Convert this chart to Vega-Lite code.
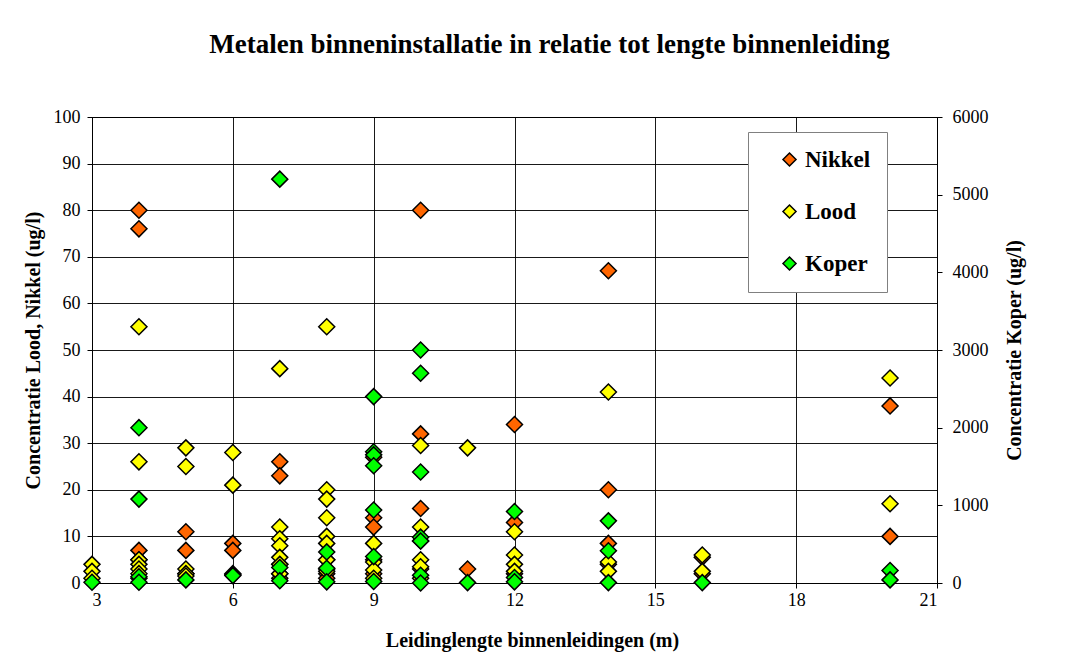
{
  "$schema": "https://vega.github.io/schema/vega-lite/v6.json",
  "width": 845,
  "height": 466,
  "autosize": {"type": "none"},
  "padding": {"left": 92, "top": 117, "right": 144, "bottom": 81},
  "background": "white",
  "title": {
    "text": "Metalen binneninstallatie in relatie tot lengte binnenleiding",
    "font": "Liberation Serif",
    "fontSize": 27,
    "fontWeight": "bold",
    "color": "black",
    "anchor": "middle",
    "dx": 35,
    "offset": 49
  },
  "config": {
    "view": {"stroke": "black", "strokeWidth": 1},
    "font": "Liberation Serif",
    "axis": {
      "labelFont": "Liberation Serif",
      "labelFontSize": 18,
      "labelColor": "black",
      "titleFont": "Liberation Serif",
      "titleFontSize": 20,
      "titleFontWeight": "bold",
      "titleColor": "black",
      "domainColor": "black",
      "tickColor": "black",
      "tickSize": 5,
      "gridColor": "#000000",
      "gridOpacity": 0.9,
      "labelPadding": 6
    }
  },
  "data": {
    "values": [
      {"x": 4, "s": "Nikkel", "v": 80}, {"x": 4, "s": "Nikkel", "v": 76}, {"x": 4, "s": "Nikkel", "v": 7}, {"x": 4, "s": "Nikkel", "v": 5},
      {"x": 5, "s": "Nikkel", "v": 11}, {"x": 5, "s": "Nikkel", "v": 7}, {"x": 5, "s": "Nikkel", "v": 2},
      {"x": 6, "s": "Nikkel", "v": 8.5}, {"x": 6, "s": "Nikkel", "v": 7},
      {"x": 7, "s": "Nikkel", "v": 26}, {"x": 7, "s": "Nikkel", "v": 23}, {"x": 7, "s": "Nikkel", "v": 4}, {"x": 7, "s": "Nikkel", "v": 2}, {"x": 7, "s": "Nikkel", "v": 1},
      {"x": 8, "s": "Nikkel", "v": 5}, {"x": 8, "s": "Nikkel", "v": 3}, {"x": 8, "s": "Nikkel", "v": 2}, {"x": 8, "s": "Nikkel", "v": 1},
      {"x": 9, "s": "Nikkel", "v": 27}, {"x": 9, "s": "Nikkel", "v": 14}, {"x": 9, "s": "Nikkel", "v": 12}, {"x": 9, "s": "Nikkel", "v": 5}, {"x": 9, "s": "Nikkel", "v": 2},
      {"x": 10, "s": "Nikkel", "v": 80}, {"x": 10, "s": "Nikkel", "v": 32}, {"x": 10, "s": "Nikkel", "v": 16}, {"x": 10, "s": "Nikkel", "v": 9}, {"x": 10, "s": "Nikkel", "v": 3},
      {"x": 11, "s": "Nikkel", "v": 3},
      {"x": 12, "s": "Nikkel", "v": 34}, {"x": 12, "s": "Nikkel", "v": 13}, {"x": 12, "s": "Nikkel", "v": 2},
      {"x": 14, "s": "Nikkel", "v": 67}, {"x": 14, "s": "Nikkel", "v": 20}, {"x": 14, "s": "Nikkel", "v": 8.5}, {"x": 14, "s": "Nikkel", "v": 4},
      {"x": 16, "s": "Nikkel", "v": 5.5}, {"x": 16, "s": "Nikkel", "v": 2},
      {"x": 20, "s": "Nikkel", "v": 38}, {"x": 20, "s": "Nikkel", "v": 10},
      {"x": 3, "s": "Lood", "v": 4}, {"x": 3, "s": "Lood", "v": 2.5}, {"x": 3, "s": "Lood", "v": 1},
      {"x": 4, "s": "Lood", "v": 55}, {"x": 4, "s": "Lood", "v": 26}, {"x": 4, "s": "Lood", "v": 5}, {"x": 4, "s": "Lood", "v": 4}, {"x": 4, "s": "Lood", "v": 3}, {"x": 4, "s": "Lood", "v": 2}, {"x": 4, "s": "Lood", "v": 1},
      {"x": 5, "s": "Lood", "v": 29}, {"x": 5, "s": "Lood", "v": 25}, {"x": 5, "s": "Lood", "v": 3}, {"x": 5, "s": "Lood", "v": 2}, {"x": 5, "s": "Lood", "v": 1.5},
      {"x": 6, "s": "Lood", "v": 28}, {"x": 6, "s": "Lood", "v": 21}, {"x": 6, "s": "Lood", "v": 2},
      {"x": 7, "s": "Lood", "v": 46}, {"x": 7, "s": "Lood", "v": 12}, {"x": 7, "s": "Lood", "v": 9.5}, {"x": 7, "s": "Lood", "v": 8}, {"x": 7, "s": "Lood", "v": 5.5}, {"x": 7, "s": "Lood", "v": 4}, {"x": 7, "s": "Lood", "v": 2},
      {"x": 8, "s": "Lood", "v": 55}, {"x": 8, "s": "Lood", "v": 20}, {"x": 8, "s": "Lood", "v": 18}, {"x": 8, "s": "Lood", "v": 14}, {"x": 8, "s": "Lood", "v": 10}, {"x": 8, "s": "Lood", "v": 8.5}, {"x": 8, "s": "Lood", "v": 5}, {"x": 8, "s": "Lood", "v": 2.5},
      {"x": 9, "s": "Lood", "v": 8.5}, {"x": 9, "s": "Lood", "v": 4.5}, {"x": 9, "s": "Lood", "v": 2.8}, {"x": 9, "s": "Lood", "v": 1},
      {"x": 10, "s": "Lood", "v": 29.5}, {"x": 10, "s": "Lood", "v": 12}, {"x": 10, "s": "Lood", "v": 5}, {"x": 10, "s": "Lood", "v": 3.5}, {"x": 10, "s": "Lood", "v": 1},
      {"x": 11, "s": "Lood", "v": 29},
      {"x": 12, "s": "Lood", "v": 11}, {"x": 12, "s": "Lood", "v": 6}, {"x": 12, "s": "Lood", "v": 4}, {"x": 12, "s": "Lood", "v": 2.5},
      {"x": 14, "s": "Lood", "v": 41}, {"x": 14, "s": "Lood", "v": 4.5}, {"x": 14, "s": "Lood", "v": 2.5},
      {"x": 16, "s": "Lood", "v": 6}, {"x": 16, "s": "Lood", "v": 2.5},
      {"x": 20, "s": "Lood", "v": 44}, {"x": 20, "s": "Lood", "v": 17},
      {"x": 3, "s": "Koper", "v": 10},
      {"x": 4, "s": "Koper", "v": 2000}, {"x": 4, "s": "Koper", "v": 1080}, {"x": 4, "s": "Koper", "v": 80}, {"x": 4, "s": "Koper", "v": 10},
      {"x": 5, "s": "Koper", "v": 40},
      {"x": 6, "s": "Koper", "v": 105}, {"x": 6, "s": "Koper", "v": 95},
      {"x": 7, "s": "Koper", "v": 5200}, {"x": 7, "s": "Koper", "v": 200}, {"x": 7, "s": "Koper", "v": 30},
      {"x": 8, "s": "Koper", "v": 400}, {"x": 8, "s": "Koper", "v": 190}, {"x": 8, "s": "Koper", "v": 15},
      {"x": 9, "s": "Koper", "v": 2400}, {"x": 9, "s": "Koper", "v": 1690}, {"x": 9, "s": "Koper", "v": 1650}, {"x": 9, "s": "Koper", "v": 1510}, {"x": 9, "s": "Koper", "v": 940}, {"x": 9, "s": "Koper", "v": 340}, {"x": 9, "s": "Koper", "v": 20},
      {"x": 10, "s": "Koper", "v": 3000}, {"x": 10, "s": "Koper", "v": 2700}, {"x": 10, "s": "Koper", "v": 1430}, {"x": 10, "s": "Koper", "v": 590}, {"x": 10, "s": "Koper", "v": 540}, {"x": 10, "s": "Koper", "v": 100}, {"x": 10, "s": "Koper", "v": 0},
      {"x": 11, "s": "Koper", "v": 5},
      {"x": 12, "s": "Koper", "v": 920}, {"x": 12, "s": "Koper", "v": 70}, {"x": 12, "s": "Koper", "v": 15},
      {"x": 14, "s": "Koper", "v": 800}, {"x": 14, "s": "Koper", "v": 415}, {"x": 14, "s": "Koper", "v": 5},
      {"x": 16, "s": "Koper", "v": 5},
      {"x": 20, "s": "Koper", "v": 160}, {"x": 20, "s": "Koper", "v": 40}
    ]
  },
  "encoding": {
    "x": {
      "field": "x",
      "type": "quantitative",
      "scale": {"domain": [3, 21], "nice": false, "zero": false},
      "axis": {
        "title": "Leidinglengte binnenleidingen (m)",
        "values": [3, 6, 9, 12, 15, 18, 21],
        "grid": true,
        "labelPadding": 3,
        "titlePadding": 21,
        "titleX": 440
      }
    },
    "color": {
      "field": "s",
      "type": "nominal",
      "scale": {"domain": ["Nikkel", "Lood", "Koper"], "range": ["#FF6600", "#FFFF00", "#00FF00"]},
      "legend": {
        "title": null,
        "orient": "none",
        "legendX": 656,
        "legendY": 15,
        "symbolType": "diamond",
        "symbolSize": 170,
        "symbolStrokeColor": "black",
        "symbolStrokeWidth": 1.5,
        "symbolOffset": 14,
        "labelFont": "Liberation Serif",
        "labelFontSize": 23,
        "labelFontWeight": "bold",
        "labelColor": "black",
        "labelOffset": 4,
        "rowPadding": 28,
        "padding": 16,
        "strokeColor": "#808080",
        "fillColor": "white"
      }
    }
  },
  "layer": [
    {
      "transform": [{"filter": "datum.s !== 'Koper'"}],
      "mark": {"type": "point", "shape": "diamond", "filled": true, "size": 256, "stroke": "black", "strokeWidth": 1.5, "opacity": 1},
      "encoding": {
        "y": {
          "field": "v",
          "type": "quantitative",
          "scale": {"domain": [0, 100], "nice": false},
          "axis": {
            "title": "Concentratie Lood, Nikkel (ug/l)",
            "values": [0, 10, 20, 30, 40, 50, 60, 70, 80, 90, 100],
            "grid": true,
            "labelPadding": 7,
            "titlePadding": 10
          }
        }
      }
    },
    {
      "transform": [{"filter": "datum.s === 'Koper'"}],
      "mark": {"type": "point", "shape": "diamond", "filled": true, "size": 256, "stroke": "black", "strokeWidth": 1.5, "opacity": 1},
      "encoding": {
        "y": {
          "field": "v",
          "type": "quantitative",
          "scale": {"domain": [0, 6000], "nice": false},
          "axis": {
            "orient": "right",
            "title": "Concentratie Koper (ug/l)",
            "values": [0, 1000, 2000, 3000, 4000, 5000, 6000],
            "format": "d",
            "grid": false,
            "labelPadding": 10,
            "titleAngle": 270,
            "titlePadding": 36
          }
        }
      }
    }
  ],
  "resolve": {"scale": {"y": "independent"}}
}
